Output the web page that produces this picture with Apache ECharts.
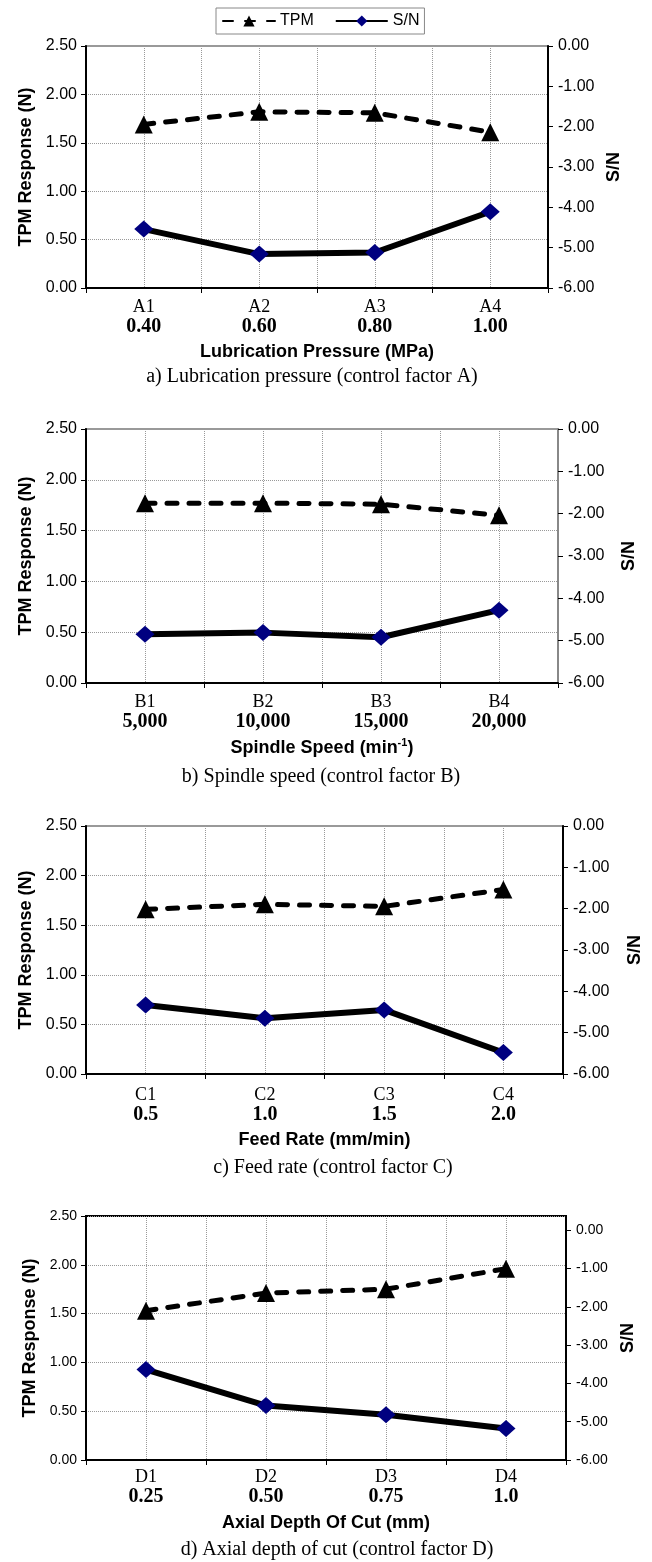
<!DOCTYPE html>
<html lang="en">
<head>
  <meta charset="UTF-8">
  <title>TPM response and S/N</title>
  <script src="https://cdn.jsdelivr.net/npm/echarts@6/dist/echarts.min.js"></script>
</head>
<body style="margin:0">
  <div id="main" style="width: 652px;height:1562px;"></div>
  <script type="text/javascript">
    // factor levels + mean TPM (N) and S/N (dB)
    const catsA = ['A1', 'A2', 'A3', 'A4'];
    const levelsA = ['0.40', '0.60', '0.80', '1.00'];
    const tpmA = [1.69, 1.82, 1.81, 1.61];
    const snA = [-4.54, -5.16, -5.12, -4.11];

    const catsB = ['B1', 'B2', 'B3', 'B4'];
    const levelsB = ['5,000', '10,000', '15,000', '20,000'];
    const tpmB = [1.77, 1.77, 1.76, 1.65];
    const snB = [-4.85, -4.81, -4.92, -4.28];

    const catsC = ['C1', 'C2', 'C3', 'C4'];
    const levelsC = ['0.5', '1.0', '1.5', '2.0'];
    const tpmC = [1.66, 1.71, 1.69, 1.86];
    const snC = [-4.33, -4.65, -4.45, -5.48];

    const catsD = ['D1', 'D2', 'D3', 'D4'];
    const levelsD = ['0.25', '0.50', '0.75', '1.0'];
    const tpmD = [1.53, 1.71, 1.75, 1.96];
    const snD = [-3.64, -4.58, -4.82, -5.18];

    const snTicks = [-6, -5, -4, -3, -2, -1, 0];

    const SANS = '"Liberation Sans", Arial, sans-serif';
    const SERIF = '"Liberation Serif", "Times New Roman", serif';

    // layout of the four panels
    const panels = [
      { cats: catsA, levels: levelsA, tpm: tpmA, sn: snA, snMax: 0,
        name: 'Lubrication Pressure (MPa)', caption: 'a) Lubrication pressure (control factor A)',
        top: 46, height: 242, width: 462, fs: 16, margin: 9, nameGap: 55, snGap: 45,
        capX: 312, capY: 377, border: '#999', rightLine: '#000' },
      { cats: catsB, levels: levelsB, tpm: tpmB, sn: snB, snMax: 0,
        name: '{t|Spindle Speed (min}{s|-1}{t|)}', caption: 'b) Spindle speed (control factor B)',
        top: 429, height: 254, width: 472, fs: 16, margin: 9, nameGap: 54, snGap: 62,
        capX: 321, capY: 777, border: '#999', rightLine: '#888' },
      { cats: catsC, levels: levelsC, tpm: tpmC, sn: snC, snMax: 0,
        name: 'Feed Rate (mm/min)', caption: 'c) Feed rate (control factor C)',
        top: 826, height: 248, width: 484, fs: 16, margin: 11, nameGap: 57, snGap: 63,
        capX: 333, capY: 1168, border: '#999', rightLine: '#000' },
      { cats: catsD, levels: levelsD, tpm: tpmD, sn: snD, snMax: 0.37,
        name: 'Axial Depth Of Cut (mm)', caption: 'd) Axial depth of cut (control factor D)',
        top: 1216, height: 244, width: 480, fs: 14, margin: 7, nameGap: 54, snGap: 46,
        capX: 337, capY: 1550, border: '#000', rightLine: '#000' }
    ];

    var myChart = echarts.init(document.getElementById('main'));

    const grid = [], xAxis = [], yAxis = [], series = [], graphic = [];

    panels.forEach((p, i) => {
      grid.push({
        left: 86, top: p.top, width: p.width, height: p.height,
        show: true, borderColor: p.border, borderWidth: 2, backgroundColor: 'transparent'
      });

      // category axis with two-line labels
      xAxis.push({
        type: 'category', gridIndex: i, data: p.cats,
        boundaryGap: true,
        axisLine: { lineStyle: { color: '#000', width: 2 } },
        axisTick: { show: true, length: 5, lineStyle: { color: '#000' } },
        splitLine: { show: false },
        axisLabel: {
          margin: p.margin,
          formatter: (v, idx) => '{n|' + v + '}\n{b|' + p.levels[idx] + '}',
          rich: {
            n: { fontFamily: SERIF, fontSize: 18, color: '#000', lineHeight: 20 },
            b: { fontFamily: SERIF, fontSize: 20, fontWeight: 'bold', color: '#000', lineHeight: 20 }
          }
        },
        name: p.name, nameLocation: 'middle', nameGap: p.nameGap,
        nameTextStyle: {
          fontFamily: SANS, fontSize: 18, fontWeight: 'bold', color: '#000',
          rich: {
            t: { fontFamily: SANS, fontSize: 18, fontWeight: 'bold', color: '#000', lineHeight: 22 },
            s: { fontFamily: SANS, fontSize: 11, fontWeight: 'bold', color: '#000', lineHeight: 12, verticalAlign: 'top' }
          }
        }
      });
      // helper axis: only for the vertical dotted grid (centres + boundaries)
      xAxis.push({
        type: 'value', gridIndex: i, min: 0, max: 8, interval: 1,
        axisLine: { show: false }, axisTick: { show: false }, axisLabel: { show: false },
        splitLine: { show: true, lineStyle: { color: '#999', type: 'dotted', width: 1 } }
      });

      yAxis.push({
        type: 'value', gridIndex: i, position: 'left', min: 0, max: 2.5, interval: 0.5,
        axisLine: { show: true, lineStyle: { color: '#000', width: 2 } },
        axisTick: { show: true, length: 5, lineStyle: { color: '#000' } },
        axisLabel: { formatter: v => v.toFixed(2), fontFamily: SANS, fontSize: p.fs, color: '#000', margin: 9 },
        splitLine: { show: true, lineStyle: { color: '#999', type: 'dotted', width: 1 } },
        name: 'TPM Response (N)', nameLocation: 'middle', nameGap: 46,
        nameTextStyle: { fontFamily: SANS, fontSize: 18, fontWeight: 'bold', color: '#000' }
      });
      yAxis.push({
        type: 'value', gridIndex: i, position: 'right', min: -6, max: p.snMax, interval: 1,
        axisLine: { show: true, lineStyle: { color: p.rightLine, width: 2 } },
        axisTick: { show: true, length: 5, lineStyle: { color: '#000' }, customValues: snTicks },
        axisLabel: { formatter: v => v.toFixed(2), fontFamily: SANS, fontSize: p.fs, color: '#000', margin: 10, customValues: snTicks },
        splitLine: { show: false },
        name: 'S/N', nameLocation: 'middle', nameGap: p.snGap, nameRotate: 90,
        nameTextStyle: { fontFamily: SANS, fontSize: 18, fontWeight: 'bold', color: '#000' }
      });

      series.push({
        name: 'TPM', type: 'line', xAxisIndex: 2 * i, yAxisIndex: 2 * i, data: p.tpm,
        symbol: 'triangle', symbolSize: 18,
        itemStyle: { color: '#000' },
        lineStyle: { color: '#000', width: 5, type: [10, 12], cap: 'round' },
        emphasis: { disabled: true }, z: 3
      });
      series.push({
        name: 'S/N', type: 'line', xAxisIndex: 2 * i, yAxisIndex: 2 * i + 1, data: p.sn,
        symbol: 'diamond', symbolSize: [19, 17],
        itemStyle: { color: '#000080' },
        lineStyle: { color: '#000', width: 6 },
        emphasis: { disabled: true }, z: 4
      });

      graphic.push({
        type: 'text', x: p.capX, y: p.capY,
        style: { text: p.caption, font: '20px ' + SERIF, fill: '#000', textAlign: 'center', textVerticalAlign: 'middle' }
      });
    });

    var option = {
      animation: false,
      backgroundColor: '#fff',
      legend: {
        data: ['TPM', 'S/N'],
        left: 216, top: 8,
        padding: [5, 5, 5, 6],
        itemWidth: 52, itemHeight: 14, itemGap: 21,
        borderColor: '#888', borderWidth: 1,
        textStyle: { fontFamily: SANS, fontSize: 16, color: '#000' }
      },
      grid: grid,
      xAxis: xAxis,
      yAxis: yAxis,
      series: series,
      graphic: graphic
    };

    myChart.setOption(option);
  </script>
</body>
</html>
